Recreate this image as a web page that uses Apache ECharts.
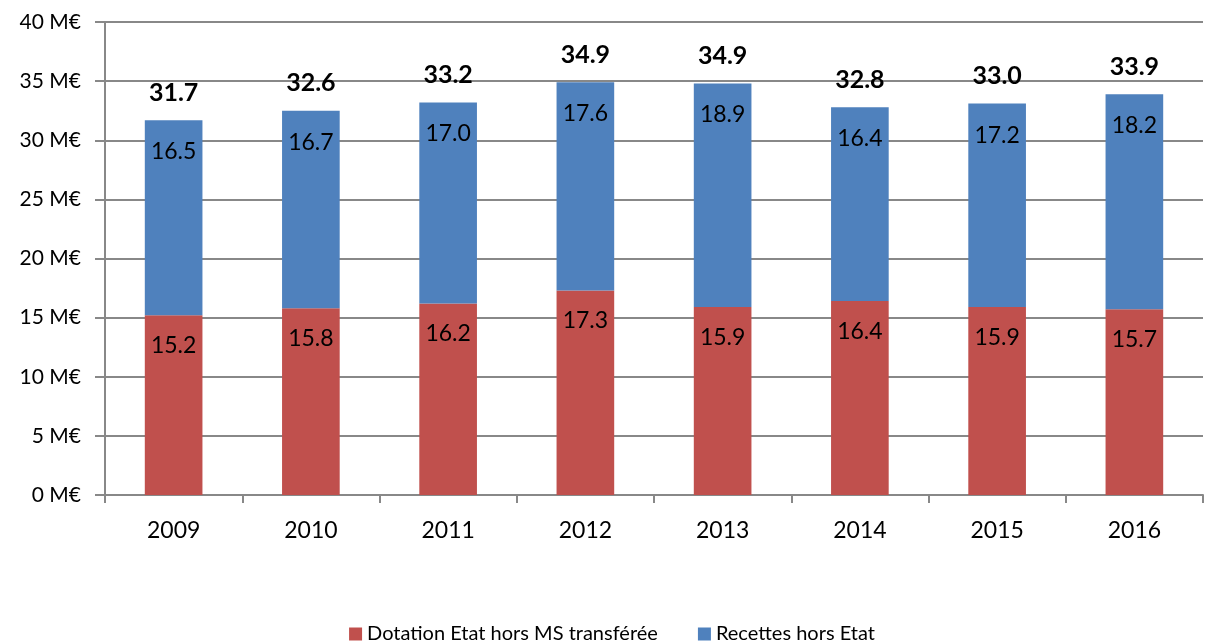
<!DOCTYPE html>
<html>
<head>
<meta charset="utf-8">
<script src="https://cdn.jsdelivr.net/npm/echarts@6/dist/echarts.min.js"></script>
<style>
  html, body { margin: 0; padding: 0; background: #fff; }
  #chart { width: 1224px; height: 641px; }
</style>
</head>
<body>
<div id="chart"></div>
<script>
  var years = ['2009', '2010', '2011', '2012', '2013', '2014', '2015', '2016'];
  var dotation = [15.2, 15.8, 16.2, 17.3, 15.9, 16.4, 15.9, 15.7];
  var recettes = [16.5, 16.7, 17.0, 17.6, 18.9, 16.4, 17.2, 18.2];
  var totals = ['31.7', '32.6', '33.2', '34.9', '34.9', '32.8', '33.0', '33.9'];

  var font = 'Lato, "Open Sans", sans-serif';

  var option = {
    backgroundColor: '#fff',
    animation: false,
    textStyle: { fontFamily: font },
    grid: { left: 105, right: 21, top: 22, bottom: 146 },
    legend: {
      top: 619,
      left: 'center',
      itemWidth: 13,
      itemHeight: 13,
      itemGap: 40,
      icon: 'rect',
      textStyle: { fontFamily: font, fontSize: 20, color: '#000' },
      data: ['Dotation Etat hors MS transférée', 'Recettes hors Etat']
    },
    xAxis: {
      type: 'category',
      data: years,
      axisLine: { lineStyle: { color: '#888', width: 2 } },
      axisTick: { show: true, length: 8, alignWithLabel: false, lineStyle: { color: '#888', width: 2 } },
      axisLabel: { color: '#000', fontSize: 23, margin: 24, fontFamily: font }
    },
    yAxis: {
      type: 'value',
      min: 0,
      max: 40,
      interval: 5,
      axisLine: { show: true, lineStyle: { color: '#888', width: 2 } },
      axisTick: { show: true, length: 10, lineStyle: { color: '#888', width: 2 } },
      splitLine: { lineStyle: { color: '#888', width: 2 } },
      axisLabel: { color: '#000', fontSize: 21, margin: 24, fontFamily: font,
        formatter: function (v) { return v + ' M€'; } }
    },
    series: [
      {
        name: 'Dotation Etat hors MS transférée',
        type: 'bar',
        stack: 'total',
        barWidth: '42%',
        itemStyle: { color: '#C0504D' },
        label: {
          show: true, position: 'insideTop', distance: 19,
          color: '#000', fontSize: 23, fontFamily: font,
          formatter: function (p) { return p.value.toFixed(1); }
        },
        data: dotation
      },
      {
        name: 'Recettes hors Etat',
        type: 'bar',
        stack: 'total',
        itemStyle: { color: '#4F81BD' },
        label: {
          show: true, position: 'insideTop', distance: 20,
          color: '#000', fontSize: 23, fontFamily: font,
          formatter: function (p) { return p.value.toFixed(1); }
        },
        data: recettes
      },
      {
        name: 'total',
        type: 'bar',
        stack: 'total',
        itemStyle: { color: 'transparent' },
        label: {
          show: true, position: 'insideBottom', distance: 15,
          color: '#000', fontSize: 25, fontWeight: 'bold', fontFamily: font,
          formatter: function (p) { return totals[p.dataIndex]; }
        },
        tooltip: { show: false },
        data: totals.map(function () { return 0; })
      }
    ]
  };

  var myChart = echarts.init(document.getElementById('chart'));
  myChart.setOption(option);
</script>
</body>
</html>
